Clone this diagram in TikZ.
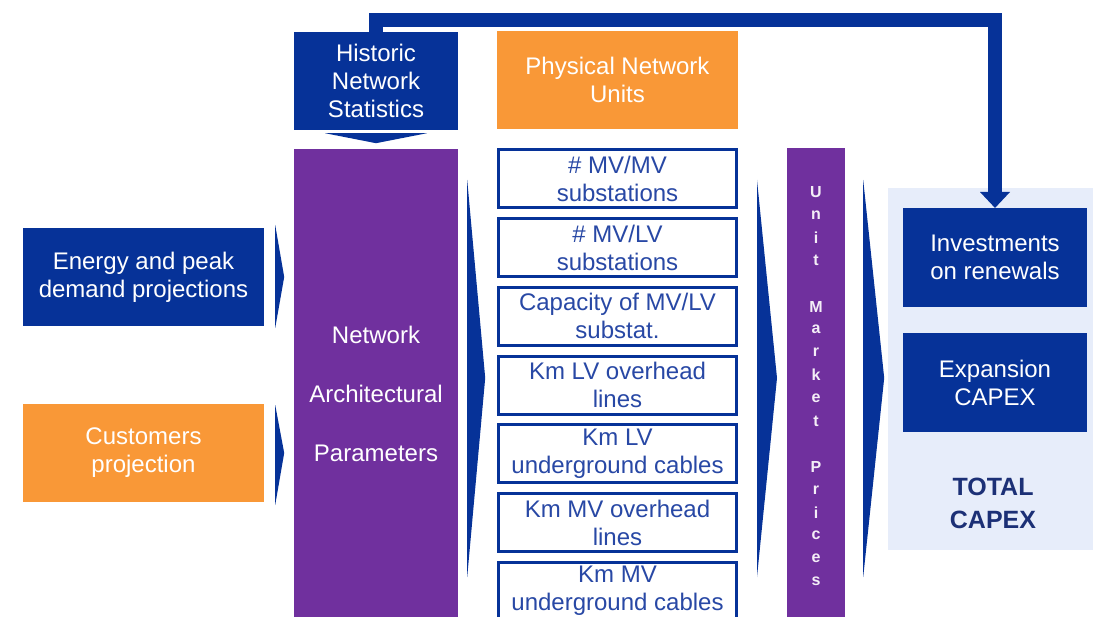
\documentclass[tikz,border=0pt]{standalone}
\usepackage{fontspec}
\setmainfont{Liberation Sans}
\usetikzlibrary{arrows.meta}
\definecolor{navy}{RGB}{6,50,152}
\definecolor{unitblue}{RGB}{40,72,165}
\definecolor{tangerine}{RGB}{249,152,55}
\definecolor{violet}{RGB}{112,48,158}
\definecolor{panelblue}{RGB}{231,237,250}
\definecolor{capexblue}{RGB}{28,48,118}
\begin{document}
\begin{tikzpicture}[x=1pt,y=-1pt,
  txt/.style={font=\fontsize{24}{28}\selectfont, align=center, inner sep=0pt},
  solidbox/.style={txt, fill=#1, text=white, minimum width=241pt, minimum height=98pt},
  unitbox/.style={txt, draw=navy, line width=3pt, fill=white, text=unitblue,
    minimum width=238pt, minimum height=58pt},
  column/.style={fill=violet, inner sep=0pt},
  chevron/.style={fill=navy}
]
\useasboundingbox (0,0) rectangle (1094,617);
\clip (0,0) rectangle (1094,617);

% light panel grouping the CAPEX results
\node[fill=panelblue, minimum width=205pt, minimum height=362pt, inner sep=0pt] (panel) at (990.5,369) {};

% input boxes
\node[solidbox=navy] (energy) at (143.5,277) {Energy and peak\\demand projections};
\node[solidbox=tangerine] (cust) at (143.5,453) {Customers\\projection};

% network architecture column
\node[column, txt, text=white, minimum width=164pt, minimum height=490pt] (nap) at (376,394)
  {Network\\[31pt]Architectural\\[31pt]Parameters};

% feedback line from the historic statistics to the renewals investments
\node[solidbox=navy, minimum width=164pt] (hist) at (376,81) {Historic\\Network\\Statistics};
\draw[navy, line width=14pt, line join=miter, -{Triangle[width=29pt,length=16pt]}]
  ([yshift=-2pt]hist.north) |- (995,20) -- (995,208);
\node[solidbox=navy, minimum width=164pt] at (hist) {Historic\\Network\\Statistics};
\fill[chevron] ([xshift=-51pt,yshift=-3pt]hist.south) -- ([xshift=51pt,yshift=-3pt]hist.south)
  -- ([yshift=-13pt]hist.south) -- cycle;

% physical network units
\node[solidbox=tangerine] (phys) at (617.5,80) {Physical Network\\Units};
\foreach \i/\t in {0/{\# MV/MV\\substations},
                   1/{\# MV/LV\\substations},
                   2/{Capacity of MV/LV\\substat.},
                   3/{Km LV overhead\\lines},
                   4/{Km LV\\underground cables},
                   5/{Km MV overhead\\lines},
                   6/{Km MV\\underground cables}}
  \node[unitbox] (u\i) at (617.5,{179+68.7*\i}) {\t};

% unit market prices column, letters stacked
\node[column, minimum width=58pt, minimum height=492pt] (ump) at (816,394) {};
\foreach \c/\k in {U/0,n/1,i/2,t/3,M/5,a/6,r/7,k/8,e/9,t/10,P/12,r/13,i/14,c/15,e/16,s/17}
  \node[font=\fontsize{16}{16}\selectfont\bfseries, text=white!92!violet, inner sep=0pt]
    at (816,{192+22.9*\k}) {\c};

% results
\node[solidbox=navy, minimum width=184pt, minimum height=99pt] (inv) at (995,257.5) {Investments\\on renewals};
\node[solidbox=navy, minimum width=184pt, minimum height=99pt] (exp) at (995,382.5) {Expansion\\CAPEX};
\node[font=\fontsize{25}{33}\selectfont\bfseries, text=capexblue, align=center, inner sep=0pt]
  (total) at (993,503) {TOTAL\\CAPEX};

% flow chevrons
\fill[chevron] ([xshift=11pt]energy.east |- 0,225) -- ([xshift=20pt]energy.east) -- ([xshift=11pt]energy.east |- 0,328) -- cycle;
\fill[chevron] ([xshift=11pt]cust.east |- 0,405) -- ([xshift=20pt]cust.east) -- ([xshift=11pt]cust.east |- 0,505) -- cycle;
\fill[chevron] ([xshift=9pt]nap.east |- 0,180) -- ([xshift=27pt]nap.east |- 0,378) -- ([xshift=9pt]nap.east |- 0,577) -- cycle;
\fill[chevron] ([xshift=19pt]u0.east |- 0,180) -- ([xshift=39pt]u0.east |- 0,378) -- ([xshift=19pt]u0.east |- 0,577) -- cycle;
\fill[chevron] ([xshift=18pt]ump.east |- 0,180) -- ([xshift=39pt]ump.east |- 0,378) -- ([xshift=18pt]ump.east |- 0,577) -- cycle;
\end{tikzpicture}
\end{document}
